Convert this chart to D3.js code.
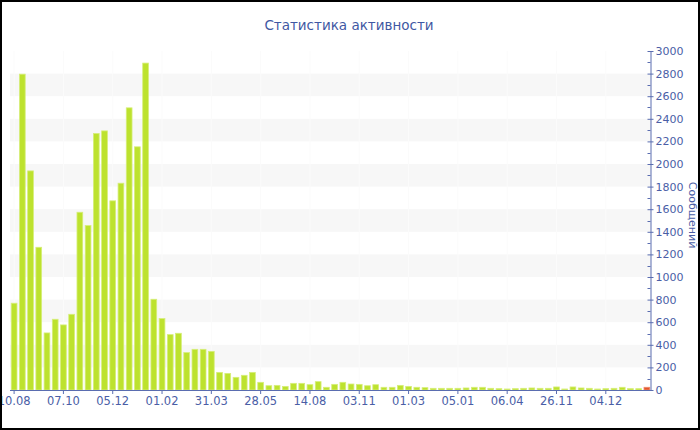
<!DOCTYPE html>
<html>
<head>
<meta charset="utf-8">
<script src="https://cdn.jsdelivr.net/npm/d3@7"></script>
<style>
  html, body { margin: 0; padding: 0; background: #fff; }
  svg { display: block; }
</style>
</head>
<body>
<script>
const titleText = "Статистика активности";
const yAxisTitle = "Сообщений";
const values = [768, 2795, 1939, 1263, 505, 626, 576, 670, 1573, 1455,
  2270, 2293, 1674, 1830, 2497, 2152, 2893, 803, 632, 490,
  502, 331, 360, 360, 342, 156, 147, 112, 130, 156,
  68, 38, 41, 32, 59, 59, 47, 74, 24, 50,
  68, 53, 50, 38, 47, 24, 24, 41, 32, 24,
  21, 15, 15, 15, 15, 18, 24, 24, 15, 12,
  9, 12, 15, 18, 15, 15, 27, 9, 27, 18,
  15, 9, 12, 15, 24, 12, 12, 24];
const tickLabels = ["10.08", "07.10", "05.12", "01.02", "31.03", "28.05", "14.08",
  "03.11", "01.03", "05.01", "06.04", "26.11", "04.12"];
const tickEvery = 6;
const yTicks = [0, 200, 400, 600, 800, 1000, 1200, 1400, 1600, 1800, 2000, 2200, 2400, 2600, 2800, 3000];
const yMinorTicks = d3.range(100, 3000, 200);

const W = 700, H = 430;
const plotLeft = 10, plotRight = 651, plotTop = 51, plotBottom = 390;
const textColor = "#4a5ea6";
const axisColor = "#5a6db0";
const font = "'DejaVu Sans', Verdana, sans-serif";

const svg = d3.select("body").append("svg").attr("width", W).attr("height", H);
svg.append("rect").attr("width", W).attr("height", H).attr("fill", "#fff");

const x = d3.scaleBand().domain(d3.range(values.length)).range([plotLeft, plotRight])
  .paddingInner(0.3).paddingOuter(0.15);
const y = d3.scaleLinear().domain([0, 3000]).range([plotBottom, plotTop]);

// alternating bands
const bands = [];
for (let i = 0; i + 1 < yTicks.length; i++) if (i % 2 === 1) bands.push([yTicks[i], yTicks[i + 1]]);
svg.append("g").selectAll("rect").data(bands).join("rect")
  .attr("x", plotLeft).attr("width", plotRight - plotLeft)
  .attr("y", d => y(d[1])).attr("height", d => y(d[0]) - y(d[1]))
  .attr("fill", "#f7f7f7");

// faint vertical grid lines
svg.append("g").selectAll("line").data(tickLabels).join("line")
  .attr("x1", (d, i) => x(i * tickEvery) + x.bandwidth() / 2)
  .attr("x2", (d, i) => x(i * tickEvery) + x.bandwidth() / 2)
  .attr("y1", plotTop).attr("y2", plotBottom)
  .attr("stroke", "#fbfbfb").attr("stroke-width", 1);

// bars
svg.append("g").selectAll("rect").data(values).join("rect")
  .attr("x", (d, i) => x(i))
  .attr("width", x.bandwidth())
  .attr("y", d => y(d))
  .attr("height", d => plotBottom - y(d))
  .attr("fill", (d, i) => i === values.length - 1 ? "#e2552c" : "#bde22e")
  .attr("stroke", (d, i) => i === values.length - 1 ? "#ef8a6a" : "#d6ee7a")
  .attr("stroke-width", 0.8);

// x axis
const xAxis = d3.axisBottom(x)
  .tickValues(d3.range(0, values.length, tickEvery))
  .tickFormat(d => tickLabels[d / tickEvery] || "")
  .tickSize(4).tickSizeOuter(0).tickPadding(3);
const gx = svg.append("g").attr("transform", `translate(0,${plotBottom})`).call(xAxis);
gx.select(".domain").attr("stroke", axisColor).attr("d", `M${plotLeft},0.5H${plotRight}`);
gx.selectAll(".tick line").attr("stroke", axisColor);
gx.selectAll(".tick text").attr("fill", textColor)
  .style("font-family", font).style("font-size", "11.5px");

// y axis (right)
const yAxis = d3.axisRight(y).tickValues(yTicks).tickFormat(d3.format("d"))
  .tickSize(3).tickSizeOuter(0).tickPadding(2);
const gy = svg.append("g").attr("transform", `translate(${plotRight - 0.5},0)`).call(yAxis);
gy.select(".domain").attr("stroke", axisColor);
gy.selectAll(".tick line").attr("stroke", axisColor).attr("x1", -3);
gy.selectAll(".tick text").attr("fill", textColor)
  .style("font-family", font).style("font-size", "11px");
gy.append("g").selectAll("line").data(yMinorTicks).join("line")
  .attr("x1", -3).attr("x2", 0)
  .attr("y1", d => Math.round(y(d)) + 0.5).attr("y2", d => Math.round(y(d)) + 0.5)
  .attr("stroke", axisColor);

// title
svg.append("text").attr("x", 349).attr("y", 30).attr("text-anchor", "middle")
  .attr("fill", "#3f58a3")
  .style("font-family", font).style("font-size", "13.5px")
  .text(titleText);

// y axis title
svg.append("text").attr("transform", "translate(689,215) rotate(90)")
  .attr("text-anchor", "middle").attr("fill", textColor)
  .style("font-family", font).style("font-size", "11px")
  .text(yAxisTitle);

// border
svg.append("rect").attr("x", 1).attr("y", 1).attr("width", W - 2).attr("height", H - 2)
  .attr("fill", "none").attr("stroke", "#000").attr("stroke-width", 2);
</script>
</body>
</html>
